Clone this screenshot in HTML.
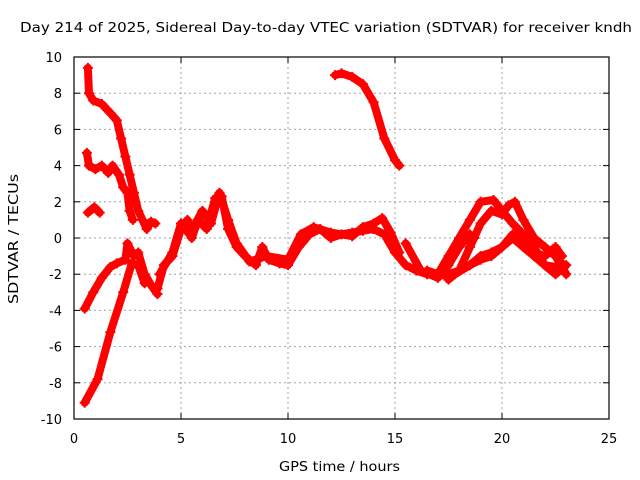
<!DOCTYPE html>
<html><head><meta charset="utf-8"><style>
body{margin:0;background:#fff}
svg{display:block;font-family:"DejaVu Sans","Liberation Sans",sans-serif}
</style></head><body>
<svg id="chart" width="640" height="480" viewBox="0 0 640 480" xmlns="http://www.w3.org/2000/svg">
<rect width="640" height="480" fill="#fff"/>
<text x="20" y="32" font-size="13.5" textLength="612" lengthAdjust="spacingAndGlyphs">Day 214 of 2025, Sidereal Day-to-day VTEC variation (SDTVAR) for receiver kndh</text>
<text x="279" y="471" font-size="13" textLength="121" lengthAdjust="spacingAndGlyphs">GPS time / hours</text>
<text transform="translate(18,304) rotate(-90)" font-size="13" textLength="130" lengthAdjust="spacingAndGlyphs">SDTVAR / TECUs</text>
<g id="grid"></g><g id="ticks"></g><g id="series"></g>
<rect x="74" y="57" width="535" height="362" fill="none" stroke="#000" stroke-width="1.2"/>
</svg>
<script>
const xTicks=[0,5,10,15,20,25];
const yTicks=[-10,-8,-6,-4,-2,0,2,4,6,8,10];
const s1=[[0.65,9.4],[0.7,8.0],[0.9,7.6],[1.3,7.4],[1.7,6.9],[2.0,6.5],[2.2,5.5],[2.4,4.5],[2.6,3.5],[2.8,2.5],[3.0,1.5],[3.2,1.0],[3.4,0.5],[3.6,0.9],[3.8,0.8]];
const s2=[[0.6,4.7],[0.7,4.0],[1.0,3.8],[1.3,4.0],[1.6,3.6],[1.8,4.0],[2.1,3.5],[2.3,2.8],[2.5,2.5],[2.6,1.5],[2.75,1.0]];
const s3=[[0.65,1.4],[0.95,1.7],[1.2,1.4]];
const s4=[[0.5,-3.9],[0.9,-3.0],[1.3,-2.2],[1.7,-1.6],[2.0,-1.4],[2.4,-1.2],[2.5,-0.3],[2.8,-1.0],[3.0,-0.8],[3.3,-2.0],[3.6,-2.6],[3.9,-3.1]];
const s5=[[0.5,-9.1],[1.1,-7.8],[1.7,-5.2],[2.3,-3.0],[2.7,-1.4],[3.0,-1.5],[3.3,-2.5]];
const s6=[[3.9,-2.8],[4.2,-1.5],[4.6,-1.0],[5.0,0.5],[5.3,1.0],[5.5,0.0],[5.8,1.0],[6.2,0.5],[6.6,2.2],[6.9,2.3],[7.2,0.5],[7.6,-0.5],[8.0,-1.0],[8.5,-1.5],[8.8,-0.5],[9.1,-1.2],[9.6,-1.4],[10,-1.5],[10.5,-0.5],[11,0.2],[11.5,0.5],[12,0],[12.5,0.2],[13,0.3],[13.5,0.4],[14,0.5],[14.5,0.2],[15,-0.8],[15.5,-1.5],[16,-1.8],[16.5,-2],[17,-2.1],[17.5,-2.0],[18,-1.8],[18.5,-1.5],[19,-1.0],[19.5,-0.8],[20,-0.5],[20.5,0],[21,-0.5],[21.5,-1],[22,-1.5],[22.5,-1.6],[22.8,-1.4]];
const s7=[[4.0,-2.0],[4.6,-0.8],[5.0,0.8],[5.4,0.2],[6.0,1.5],[6.4,0.8],[6.8,2.5],[7.2,1.0],[7.6,-0.3],[8.2,-1.3],[9,-1],[10,-1.2],[10.6,0.2],[11.2,0.6],[12,0.3],[13,0.1],[13.5,0.6],[14,0.8],[14.4,1.1],[14.8,0.3],[15.2,-0.8]];
const s8=[[12.2,9.0],[12.5,9.1],[13,8.9],[13.5,8.5],[14,7.5],[14.5,5.5],[15.0,4.3],[15.2,4.0]];
const s9=[[15.5,-0.3],[16.2,-1.8],[17,-2.2],[17.5,-1.5],[18,-0.5],[18.5,0.2],[18.7,0.0]];
const s10=[[16.5,-1.8],[17,-2.0],[17.5,-1.0],[18,0],[18.5,1],[19,2],[19.6,2.1],[20,1.5],[20.5,0.8],[21,0.2],[21.5,-0.5],[22,-1.5],[22.5,-2.0],[23,-1.5]];
const s11=[[17.5,-2.3],[18,-1.8],[18.5,-0.5],[19,0.8],[19.5,1.5],[20,1.3],[20.3,1.8],[20.6,2.0],[21,1.0],[21.5,0],[22,-0.5],[22.5,-1],[23,-2.0]];
const s12=[[17.8,-2.0],[18.5,-1.5],[19,-1.2],[19.5,-1],[20,-0.5],[20.5,0.2],[21,-0.2],[21.5,-0.8],[22,-1],[22.5,-0.5],[22.8,-1]];
const allSeries=[s1,s2,s3,s4,s5,s6,s7,s8,s9,s10,s11,s12];
const NS='http://www.w3.org/2000/svg';
const X=v=>74+v*535/25, Y=v=>238-v*18.1;
const grid=document.getElementById('grid'),ticks=document.getElementById('ticks'),ser=document.getElementById('series');
function mk(tag,attrs,parent){const e=document.createElementNS(NS,tag);for(const k in attrs)e.setAttribute(k,attrs[k]);parent.appendChild(e);return e;}
xTicks.forEach(t=>{
  if(t>0&&t<25){const g=mk('line',{x1:X(t),x2:X(t),y1:57,y2:419,stroke:'#a0a0a0','stroke-dasharray':'2,3'},grid);
  
  }
  mk('line',{x1:X(t),x2:X(t),y1:419,y2:413,stroke:'#000'},ticks);
  mk('line',{x1:X(t),x2:X(t),y1:57,y2:63,stroke:'#000'},ticks);
  const l=mk('text',{x:X(t),y:443,'font-size':13,'text-anchor':'middle'},ticks);l.textContent=t;
  
  
});
yTicks.forEach(t=>{
  if(t>-10&&t<10){const g=mk('line',{x1:74,x2:609,y1:Y(t),y2:Y(t),stroke:'#a0a0a0','stroke-dasharray':'2,3'},grid);
  
  }
  mk('line',{x1:74,x2:80,y1:Y(t),y2:Y(t),stroke:'#000'},ticks);
  mk('line',{x1:603,x2:609,y1:Y(t),y2:Y(t),stroke:'#000'},ticks);
  const l=mk('text',{x:62,y:Y(t)+5,'font-size':13,'text-anchor':'end'},ticks);l.textContent=t;
  
  
});
allSeries.forEach((s,i)=>{
  const pts=s.map(p=>X(p[0])+','+Y(p[1])).join(' ');
  const pl=mk('polyline',{points:pts,fill:'none',stroke:'#ff0000','stroke-width':8,'stroke-linejoin':'round','stroke-linecap':'round'},ser);
  
  
  s.forEach(p=>{
    const m=mk('path',{d:`M${X(p[0])-5},${Y(p[1])}h10M${X(p[0])},${Y(p[1])-5}v10`,stroke:'#ff0000','stroke-width':2},ser);
    
    
  });
});
</script>
</body></html>
